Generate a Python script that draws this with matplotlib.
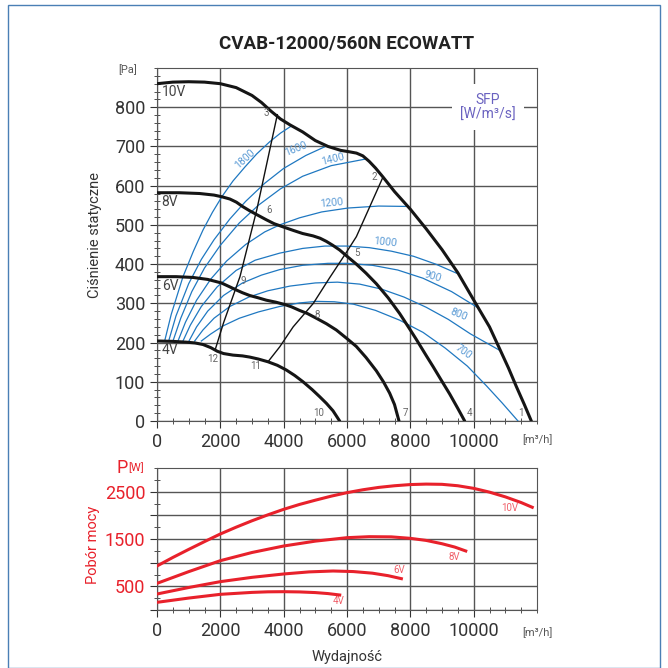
import numpy as np
import matplotlib.pyplot as plt
from matplotlib.ticker import MultipleLocator
from matplotlib.patches import Rectangle

plt.rcParams['font.family'] = ['Roboto', 'DejaVu Sans']

# ---- dane: krzywe wentylatora (Q [m3/h], p [Pa]) ----
q_10v = [0, 500, 1000, 1500, 2000, 2500, 3000, 3300, 3600, 3900, 4200, 4600, 5000, 5400, 5800,
         6100, 6300, 6500, 6700, 6900, 7137, 7500, 8000, 8500, 9000, 9500, 10033, 10500, 10821,
         11100, 11347, 11600, 11821]
p_10v = [860, 864, 865, 864, 860, 850, 830, 812, 790, 770, 755, 737, 715, 700, 690,
         686, 683, 676, 662, 645, 622, 585, 540, 490, 437, 378, 304, 240, 184,
         135, 88, 42, 0]
q_8v = [0, 700, 1347, 1800, 2032, 2300, 2505, 2700, 2926, 3200, 3453, 3700, 3979, 4300, 4600,
        4926, 5150, 5347, 5550, 5768, 6000, 6295, 6600, 6926, 7300, 7663, 8000, 8189, 8500,
        8716, 9000, 9242, 9500, 9716]
p_8v = [582, 582, 580, 576, 572, 566, 558, 547, 536, 524, 513, 503, 495, 486, 478,
        472, 466, 458, 448, 436, 420, 400, 377, 350, 314, 274, 232, 208, 167,
        139, 101, 69, 32, 0]
q_6v = [0, 600, 1137, 1600, 2032, 2300, 2505, 2700, 2926, 3200, 3453, 3750, 4032, 4250, 4500,
        4750, 5032, 5350, 5663, 6000, 6295, 6600, 6926, 7150, 7347, 7500, 7642]
p_6v = [368, 368, 366, 361, 352, 342, 334, 327, 320, 314, 308, 303, 297, 291, 282,
        274, 262, 248, 232, 210, 190, 162, 128, 100, 71, 42, 0]
q_4v = [0, 500, 926, 1200, 1453, 1700, 1900, 2100, 2400, 2700, 2926, 3200, 3505, 3800, 4084,
        4350, 4611, 4900, 5137, 5350, 5558, 5768]
p_4v = [204, 203, 201, 199, 195, 187, 178, 172, 168, 166, 163, 158, 151, 142, 130,
        116, 100, 80, 62, 45, 26, 0]

# linie SFP [W/m3/s]
sfp = {
    '1800': ([242, 450, 821, 1150, 1453, 1750, 2050, 2400, 2770, 3150, 3560, 3900, 4240],
             [204, 272, 368, 433, 487, 532, 572, 612, 647, 681, 712, 734, 752]),
    '1600': ([369, 600, 1000, 1400, 1800, 2300, 2800, 3400, 4000, 4700, 5349],
             [204, 268, 350, 412, 462, 515, 560, 606, 644, 677, 701]),
    '1400': ([505, 750, 1100, 1500, 2000, 2600, 3200, 3900, 4600, 5500, 6592],
             [204, 262, 330, 390, 448, 505, 550, 592, 624, 651, 668]),
    '1200': ([663, 900, 1250, 1700, 2200, 2800, 3400, 3875, 4500, 5200, 6033, 7000, 7929],
             [204, 252, 308, 362, 408, 450, 482, 500, 518, 533, 543, 548, 547]),
    '1000': ([821, 1050, 1400, 1900, 2500, 3100, 3875, 4600, 5300, 6000, 6700, 7400, 8100, 8800, 9456],
             [204, 244, 292, 342, 384, 410, 428, 440, 446, 446, 442, 433, 420, 400, 377]),
    '900': ([1011, 1250, 1600, 2100, 2700, 3300, 3875, 4600, 5400, 6000, 6800, 7600, 8400, 9300, 10150],
            [204, 240, 280, 320, 352, 372, 386, 397, 402, 402, 397, 385, 364, 330, 288]),
    '800': ([1190, 1450, 1800, 2300, 2900, 3500, 4200, 5000, 5700, 6400, 7100, 7800, 8500, 9200, 9900, 10825],
            [204, 232, 262, 292, 316, 332, 344, 352, 354, 349, 336, 316, 290, 259, 222, 180]),
    '700': ([1400, 1700, 2100, 2600, 3200, 3875, 4500, 5033, 5600, 6200, 6900, 7664, 8400, 9100, 9800,
             10400, 10900, 11400],
            [204, 222, 243, 262, 278, 292, 301, 305, 304, 298, 282, 257, 226, 186, 140,
             90, 46, 0]),
}
sfp_lab = {'1800': (2790, 669, 42), '1600': (4400, 695, 22), '1400': (5560, 668, 14),
           '1200': (5507, 555, 5), '1000': (7192, 455, -6), '900': (8719, 368, -16),
           '800': (9538, 272, -22), '700': (9665, 177, -36)}

# linie punktow pracy
q_3_12 = [1850, 2100, 2620, 3150, 3450, 3800]
p_3_12 = [185, 250, 368, 538, 650, 781]
q_2_11 = [3505, 3875, 4300, 4937, 5450, 5981, 6296, 6717, 7137]
p_2_11 = [151, 189, 240, 300, 365, 430, 470, 546, 622]
pkt_txt = ['1', '2', '3', '4', '5', '6', '7', '8', '9', '10', '11', '12']
pkt_q = [11478, 6876, 3454, 9877, 6318, 3528, 7855, 5065, 2717, 5107, 3117, 1748]
pkt_p = [20, 622, 785, 20, 428, 537, 20, 270, 358, 21, 140, 157]

# pobor mocy [W]
pq_10v = [0, 500, 1000, 1500, 2000, 2500, 3000, 3500, 4000, 4500, 5000, 5500, 6000, 6500, 7000,
          7500, 8000, 8500, 9000, 9500, 10000, 10500, 11000, 11500, 11850]
pw_10v = [930, 1110, 1280, 1445, 1606, 1750, 1885, 2010, 2127, 2230, 2320, 2405, 2479, 2540, 2590,
          2625, 2650, 2660, 2655, 2625, 2570, 2490, 2390, 2270, 2170]
pq_8v = [0, 1000, 2000, 3000, 4000, 5000, 6000, 6700, 7400, 8000, 8500, 9000, 9400, 9750]
pw_8v = [563, 810, 1042, 1215, 1352, 1455, 1528, 1549, 1545, 1514, 1470, 1400, 1330, 1247]
pq_6v = [0, 1000, 2000, 3000, 4000, 4800, 5560, 6200, 6800, 7300, 7717]
pw_6v = [338, 475, 599, 690, 761, 805, 824, 812, 778, 725, 662]
pq_4v = [0, 1000, 2000, 3000, 3500, 4000, 4500, 5000, 5400, 5770]
pw_4v = [162, 252, 331, 372, 384, 387, 382, 368, 347, 317]

szary = '#333333'
siatka = '#555555'
czerw = '#e8212b'
nieb = '#1f78c1'

fig = plt.figure(figsize=(6.68, 6.68), dpi=100)
fig.patches.append(Rectangle((8 / 668, 0), 652 / 668, 663 / 668, transform=fig.transFigure,
                             fill=False, edgecolor='#4a7fb5', lw=1.0))

# ---------- wykres cisnienia ----------
ax = fig.add_axes([157 / 668, 1 - 421 / 668, 380 / 668, 353 / 668])
ax.set_xlim(0, 12000)
ax.set_ylim(0, 900)
ax.set_xticks(range(0, 12000, 2000))
ax.set_yticks(range(0, 900, 100))
ax.xaxis.set_minor_locator(MultipleLocator(500))
ax.yaxis.set_minor_locator(MultipleLocator(20))
ax.grid(True, which='major', color=siatka, lw=1.0)
ax.set_axisbelow(True)
ax.tick_params(which='major', labelsize=13, labelcolor=szary, color=szary, length=5, direction='out')
ax.tick_params(which='minor', color=szary, length=4, direction='inout')
for s in ax.spines.values():
    s.set_color(siatka)

for nazwa, (q, p) in sfp.items():
    ax.plot(q, p, color=nieb, lw=0.9, zorder=3, solid_joinstyle='round')
    tx, ty, rot = sfp_lab[nazwa]
    ax.text(tx, ty, nazwa, color='#5b9bd5', fontsize=7.5, rotation=rot,
            ha='center', va='center', zorder=4)

ax.plot(q_3_12, p_3_12, color='#111111', lw=1.0, zorder=4)
ax.plot(q_2_11, p_2_11, color='#111111', lw=1.0, zorder=4)

for q, p in [(q_10v, p_10v), (q_8v, p_8v), (q_6v, p_6v), (q_4v, p_4v)]:
    ax.plot(q, p, color='#151515', lw=2.2, zorder=5, solid_capstyle='round', solid_joinstyle='round')

for t, q, p in zip(pkt_txt, pkt_q, pkt_p):
    ax.text(q, p, t, color='#666666', fontsize=7, ha='center', va='center', zorder=6)

for t, p in [('10V', 838), ('8V', 558), ('6V', 343), ('4V', 181)]:
    ax.text(150, p, t, color='#444444', fontsize=10, ha='left', va='center', zorder=6)

ax.text(10450, 800, 'SFP\n[W/m³/s]', color='#6a62c0', fontsize=10, ha='center', va='center',
        linespacing=1.1, zorder=6,
        bbox=dict(facecolor='white', edgecolor='none', pad=6))

ax.text(-0.076, 0.995, '[Pa]', transform=ax.transAxes, fontsize=8, color='#555555',
        ha='center', va='center')
ax.text(0.96, -0.054, '[m³/h]', transform=ax.transAxes, fontsize=8, color='#555555',
        ha='left', va='center')
ax.text(-0.163, 0.527, 'Ciśnienie statyczne', transform=ax.transAxes, fontsize=10.5,
        color=szary, rotation=90, ha='center', va='center')
ax.set_title('CVAB-12000/560N ECOWATT', fontsize=13.5, fontweight='bold', color='#222222', pad=14)

# ---------- wykres poboru mocy ----------
bx = fig.add_axes([157 / 668, 1 - 610 / 668, 380 / 668, 142 / 668])
bx.set_xlim(0, 12000)
bx.set_ylim(0, 3000)
bx.set_xticks(range(0, 12000, 2000))
bx.set_yticks(range(0, 3000, 500))
bx.set_yticklabels(['', '500', '', '1500', '', '2500'])
bx.xaxis.set_minor_locator(MultipleLocator(500))
bx.yaxis.set_minor_locator(MultipleLocator(250))
bx.grid(True, which='major', color=siatka, lw=1.0)
bx.set_axisbelow(True)
bx.tick_params(which='major', labelsize=13, color=szary, length=5, direction='out')
bx.tick_params(axis='x', labelcolor=szary)
bx.tick_params(axis='y', labelcolor=czerw)
bx.tick_params(which='minor', color=szary, length=4, direction='inout')
for s in bx.spines.values():
    s.set_color(siatka)

for q, w in [(pq_10v, pw_10v), (pq_8v, pw_8v), (pq_6v, pw_6v), (pq_4v, pw_4v)]:
    bx.plot(q, w, color=czerw, lw=2.2, zorder=5, solid_joinstyle='round')
for t, q, w in [('10V', 11138, 2155), ('8V', 9379, 1126), ('6V', 7665, 845), ('4V', 5748, 190)]:
    bx.text(q, w, t, color='#f0606a', fontsize=7, ha='center', va='center')

bx.text(-0.092, 1.0, 'P', transform=bx.transAxes, fontsize=13, color=czerw, ha='center', va='center')
bx.text(-0.055, 1.0, '[W]', transform=bx.transAxes, fontsize=8, color=czerw, ha='center', va='center')
bx.text(-0.168, 0.458, 'Pobór mocy', transform=bx.transAxes, fontsize=10.5, color=czerw,
        rotation=90, ha='center', va='center')
bx.text(0.96, -0.162, '[m³/h]', transform=bx.transAxes, fontsize=8, color='#555555',
        ha='left', va='center')
bx.text(0.5, -0.331, 'Wydajność', transform=bx.transAxes, fontsize=10.5, color=szary,
        ha='center', va='center')

fig.savefig('out.png', dpi=100)
